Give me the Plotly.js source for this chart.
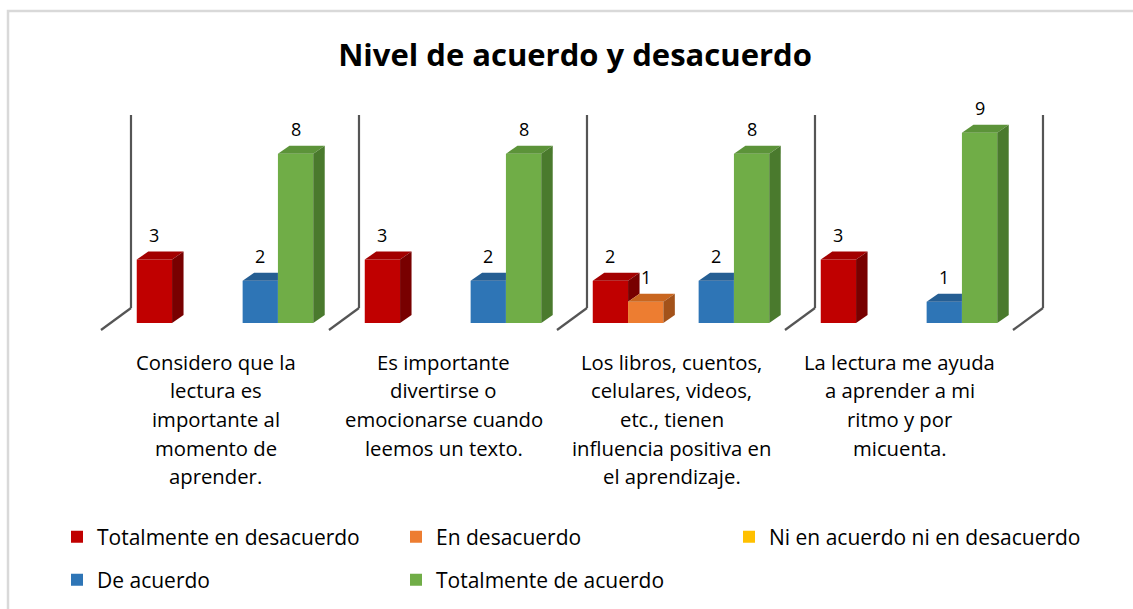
<!DOCTYPE html>
<html><head><meta charset="utf-8">
<script src="https://cdn.plot.ly/plotly-3.0.1.min.js"></script>
<style>html,body{margin:0;padding:0;background:#fff;} #chart{width:1133px;height:609px;}</style>
</head><body><div id="chart"></div>
<script>
const categories = [
  "Considero que la<br>lectura es<br>importante al<br>momento de<br>aprender.",
  "Es importante<br>divertirse o<br>emocionarse cuando<br>leemos un texto.",
  "Los libros, cuentos,<br>celulares, videos,<br>etc., tienen<br>influencia positiva en<br>el aprendizaje.",
  "La lectura me ayuda<br>a aprender a mi<br>ritmo y por<br>micuenta."
];
const seriesNames = ["Totalmente en desacuerdo", "En desacuerdo", "Ni en acuerdo ni en desacuerdo", "De acuerdo", "Totalmente de acuerdo"];
const totalmenteDesacuerdo = [3, 3, 2, 3];
const enDesacuerdo = [0, 0, 1, 0];
const niAcuerdoNiDesacuerdo = [0, 0, 0, 0];
const deAcuerdo = [2, 2, 2, 1];
const totalmenteAcuerdo = [8, 8, 8, 9];
const seriesValues = [totalmenteDesacuerdo, enDesacuerdo, niAcuerdoNiDesacuerdo, deAcuerdo, totalmenteAcuerdo];
const legendOf = ['legend', 'legend', 'legend3', 'legend2', 'legend2'];

const frontColors = ["#C00000", "#ED7D31", "#FFC000", "#2E75B6", "#70AD47"];
const topColors = ["#A30000", "#C9661F", "#D9A300", "#255E93", "#5C9339"];
const sideColors = ["#780000", "#A3521A", "#B38600", "#1E4D7A", "#4A7A2D"];

const FONT = "Open Sans, sans-serif";
const W = 0.1548;   // bar width (category units)
const DX = 0.0504;  // depth offset x
const DY = 0.378;   // depth offset y
const nS = seriesValues.length;
const xs = categories.map((_, i) => i);

const traces = [];
const annotations = [];

seriesValues.forEach((vals, j) => {
  const off = (j - (nS - 1) / 2) * W - W / 2;
  traces.push({
    type: 'bar', x: xs, y: vals, width: W, offset: off,
    name: seriesNames[j], marker: {color: frontColors[j], line: {width: 0}},
    legend: legendOf[j], hoverinfo: 'skip'
  });
});

seriesValues.forEach((vals, j) => {
  const off = (j - (nS - 1) / 2) * W - W / 2;
  vals.forEach((v, i) => {
    if (!v) return;
    const xl = i + off, xr = xl + W;
    const vNext = j < nS - 1 ? seriesValues[j + 1][i] : 0;
    // top face
    const topRight = vNext > v ? xr : xr + DX;
    traces.push({
      type: 'scatter', mode: 'lines', fill: 'toself', fillcolor: topColors[j],
      line: {width: 0, color: topColors[j]}, showlegend: false, hoverinfo: 'skip',
      x: [xl, xl + DX, topRight, xr, xl], y: [v, v + DY, v + DY, v, v]
    });
    // side face (the part not hidden by the next bar)
    if (vNext < v) {
      traces.push({
        type: 'scatter', mode: 'lines', fill: 'toself', fillcolor: sideColors[j],
        line: {width: 0, color: sideColors[j]}, showlegend: false, hoverinfo: 'skip',
        x: [xr, xr, xr + DX, xr + DX, xr], y: [vNext, v, v + DY, vNext + DY, vNext]
      });
    }
    annotations.push({
      x: xl + W / 2, y: v, xref: 'x', yref: 'y', yshift: 25, showarrow: false,
      text: String(v), font: {family: FONT, size: 18, color: '#000'}
    });
  });
});

categories.forEach((c, i) => {
  c.split('<br>').forEach((line, k) => {
    annotations.push({
      x: i - 0.0395, xref: 'x', y: 0, yref: 'paper', yanchor: 'middle',
      yshift: -(26.5 + 28.7 * k), showarrow: false, text: line,
      font: {family: FONT, size: 20.3, color: '#000'}
    });
  });
});

const shapes = [];
for (let k = 0; k <= categories.length; k++) {
  const xd = -0.4123 + k;
  shapes.push({type: 'line', xref: 'x', yref: 'y', x0: xd, x1: xd, y0: 0.709, y1: 9.835,
    line: {color: '#555555', width: 2.2}, layer: 'below'});
  shapes.push({type: 'line', xref: 'x', yref: 'y', x0: xd, x1: xd - 0.1316, y0: 0.709, y1: -0.331,
    line: {color: '#555555', width: 2.2}, layer: 'below'});
}
// chart area frame
shapes.push({type: 'rect', xref: 'paper', yref: 'paper', x0: (8 - 100) / 945, x1: (1150 - 100) / 945,
  y0: (335 - 620) / 225, y1: (335 - 11) / 225, line: {color: '#D9D9D9', width: 2.5}, fillcolor: 'rgba(0,0,0,0)'});

function legendBox(xPix, yPix, entryWidth) {
  const lg = {orientation: 'h', xref: 'container', yref: 'container', x: xPix / 1133, y: 1 - yPix / 609,
    xanchor: 'left', yanchor: 'middle',
    font: {family: FONT, size: 21, color: '#000'}, bgcolor: 'rgba(0,0,0,0)'};
  if (entryWidth) { lg.entrywidth = entryWidth; lg.entrywidthmode = 'pixels'; }
  return lg;
}

const layout = {
  width: 1133, height: 609,
  margin: {l: 100, r: 88, t: 110, b: 274},
  paper_bgcolor: '#fff', plot_bgcolor: 'rgba(0,0,0,0)',
  barmode: 'overlay',
  title: {text: '<b>Nivel de acuerdo y desacuerdo</b>', font: {family: FONT, size: 31, color: '#000'},
    x: 575 / 1133, xref: 'container', xanchor: 'center', y: 1 - 55 / 609, yref: 'container', yanchor: 'middle'},
  xaxis: {range: [-0.5482, 3.5965], showgrid: false, zeroline: false, showticklabels: false, showline: false, fixedrange: true},
  yaxis: {range: [-0.5674, 10.071], showgrid: false, zeroline: false, showticklabels: false, showline: false, fixedrange: true},
  legend: legendBox(57, 537, 294),
  legend3: legendBox(729, 537, 0),
  legend2: legendBox(57, 580, 294),
  annotations: annotations,
  shapes: shapes,
  showlegend: true
};

Plotly.newPlot('chart', traces, layout, {displayModeBar: false, staticPlot: true});
</script>
</body></html>
